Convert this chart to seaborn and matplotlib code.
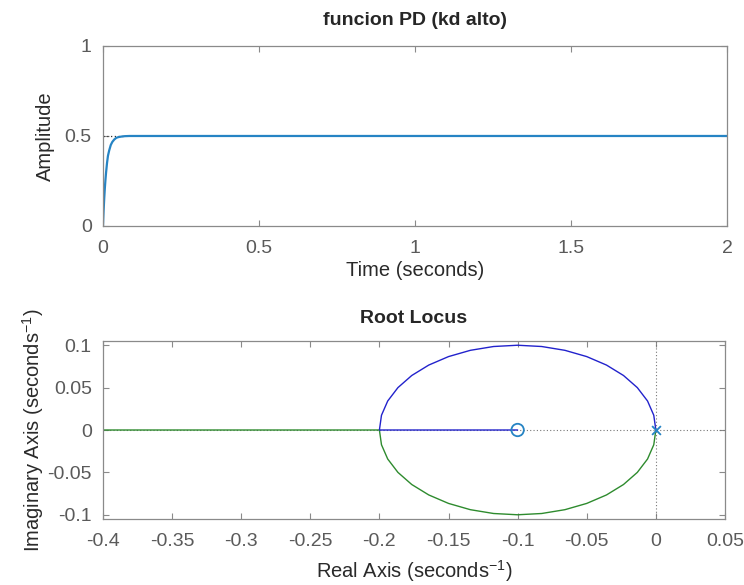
import numpy as np
import pandas as pd
import matplotlib
matplotlib.use("Agg")
import matplotlib.pyplot as plt
import seaborn as sns

# Step response of the PD loop
step_time = [0, 0.002, 0.004, 0.006, 0.008, 0.010, 0.013, 0.016, 0.020,
             0.025, 0.030, 0.036, 0.043, 0.050, 0.060, 0.070, 0.085, 2.0]
step_amp = [0, 0.083, 0.153, 0.210, 0.258, 0.298, 0.350, 0.390, 0.420,
            0.450, 0.467, 0.480, 0.490, 0.494, 0.497, 0.499, 0.500, 0.500]
steady_value = 0.5
steady_time = [0, 0.07]

# Root locus branches (upper branch ends on the zero, lower one runs off to the left)
upper_re = [0.0, -0.0015, -0.0060, -0.0134, -0.0234, -0.0357, -0.0500, -0.0658,
            -0.0826, -0.1000, -0.1174, -0.1342, -0.1500, -0.1643, -0.1766,
            -0.1866, -0.1940, -0.1985, -0.2000, -0.1000]
upper_im = [0.0, 0.0174, 0.0342, 0.0500, 0.0643, 0.0766, 0.0866, 0.0940,
            0.0985, 0.1000, 0.0985, 0.0940, 0.0866, 0.0766, 0.0643, 0.0500,
            0.0342, 0.0174, 0.0, 0.0]
lower_re = [0.0, -0.0015, -0.0060, -0.0134, -0.0234, -0.0357, -0.0500, -0.0658,
            -0.0826, -0.1000, -0.1174, -0.1342, -0.1500, -0.1643, -0.1766,
            -0.1866, -0.1940, -0.1985, -0.2000, -0.4500]
lower_im = [0.0, -0.0174, -0.0342, -0.0500, -0.0643, -0.0766, -0.0866, -0.0940,
            -0.0985, -0.1000, -0.0985, -0.0940, -0.0866, -0.0766, -0.0643,
            -0.0500, -0.0342, -0.0174, 0.0, 0.0]
zeros_re, zeros_im = [-0.1], [0.0]
poles_re, poles_im = [0.0], [0.0]

top_xticks = [0, 0.5, 1, 1.5, 2]
top_xlabels = ["0", "0.5", "1", "1.5", "2"]
top_yticks = [0, 0.5, 1]
top_ylabels = ["0", "0.5", "1"]
rl_xticks = [-0.4, -0.35, -0.3, -0.25, -0.2, -0.15, -0.1, -0.05, 0, 0.05]
rl_xlabels = ["-0.4", "-0.35", "-0.3", "-0.25", "-0.2", "-0.15", "-0.1", "-0.05", "0", "0.05"]
rl_yticks = [-0.1, -0.05, 0, 0.05, 0.1]
rl_ylabels = ["-0.1", "-0.05", "0", "0.05", "0.1"]

sns.set_style("ticks")
plt.rcParams["font.family"] = ["Liberation Sans", "DejaVu Sans"]
plt.rcParams["mathtext.fontset"] = "custom"
plt.rcParams["mathtext.rm"] = "Liberation Sans"
plt.rcParams["mathtext.it"] = "Liberation Sans:italic"
plt.rcParams["mathtext.bf"] = "Liberation Sans:bold"

TICK_COLOR = "#5a5a5a"
LABEL_COLOR = "#2a2a2a"
BOX_COLOR = "#8a8a8a"
MAT_BLUE = "#2684c4"
TICK_FS = 14
LABEL_FS = 14.5
TITLE_FS = 14

fig = plt.figure(figsize=(7.44, 5.85), dpi=100)
ax1 = fig.add_axes([0.1384, 0.6137, 0.8387, 0.3077])
ax2 = fig.add_axes([0.1384, 0.1128, 0.8360, 0.3043])


def style_axes(ax):
    for sp in ax.spines.values():
        sp.set_visible(True)
        sp.set_color(BOX_COLOR)
        sp.set_linewidth(0.9)
    ax.tick_params(direction="in", length=4, width=0.8, color=BOX_COLOR,
                   labelcolor=TICK_COLOR, labelsize=TICK_FS,
                   top=True, right=True)
    ax.tick_params(axis="x", pad=10)
    ax.tick_params(axis="y", pad=8)


# --- step response ---
step_df = pd.DataFrame({"t": step_time, "y": step_amp})
ax1.plot(steady_time, [steady_value, steady_value], linestyle=(0, (1, 2)),
         color="#333333", lw=0.9, zorder=1)
sns.lineplot(data=step_df, x="t", y="y", ax=ax1, color=MAT_BLUE, lw=1.6,
             sort=False, estimator=None, zorder=2)
ax1.set_xlim(0, 2)
ax1.set_ylim(0, 1)
ax1.set_xticks(top_xticks, top_xlabels)
ax1.set_yticks(top_yticks, top_ylabels)
ax1.set_xlabel("Time (seconds)", fontsize=LABEL_FS, color=LABEL_COLOR, labelpad=3)
ax1.set_ylabel("Amplitude", fontsize=LABEL_FS, color=LABEL_COLOR, labelpad=7)
ax1.set_title("funcion PD (kd alto)", fontsize=TITLE_FS, fontweight="bold", pad=15)
style_axes(ax1)

# --- root locus ---
ax2.axvline(0, linestyle=(0, (1, 2)), color="#777777", lw=0.8, zorder=1)
ax2.axhline(0, linestyle=(0, (1, 2)), color="#777777", lw=0.8, zorder=1)
upper_df = pd.DataFrame({"re": upper_re, "im": upper_im})
lower_df = pd.DataFrame({"re": lower_re, "im": lower_im})
sns.lineplot(data=lower_df, x="re", y="im", ax=ax2, color="#2e8b2e", lw=1.0,
             sort=False, estimator=None, zorder=2)
sns.lineplot(data=upper_df, x="re", y="im", ax=ax2, color="#2222cc", lw=1.0,
             sort=False, estimator=None, zorder=3)
sns.scatterplot(x=zeros_re, y=zeros_im, ax=ax2, marker="o", s=80,
                facecolors="none", edgecolor=MAT_BLUE, linewidth=1.3, zorder=4)
sns.scatterplot(x=poles_re, y=poles_im, ax=ax2, marker="x", s=40,
                color=MAT_BLUE, linewidth=1.3, zorder=4)
ax2.set_xlim(-0.4, 0.05)
ax2.set_ylim(-0.105, 0.105)
ax2.set_xticks(rl_xticks, rl_xlabels)
ax2.set_yticks(rl_yticks, rl_ylabels)
ax2.set_xlabel("Real Axis (seconds$^{-1}$)", fontsize=LABEL_FS, color=LABEL_COLOR, labelpad=6)
ax2.set_ylabel("Imaginary Axis (seconds$^{-1}$)", fontsize=LABEL_FS, color=LABEL_COLOR, labelpad=1)
ax2.set_title("Root Locus", fontsize=TITLE_FS, fontweight="bold", pad=13)
style_axes(ax2)

fig.savefig("out.png", dpi=100)
